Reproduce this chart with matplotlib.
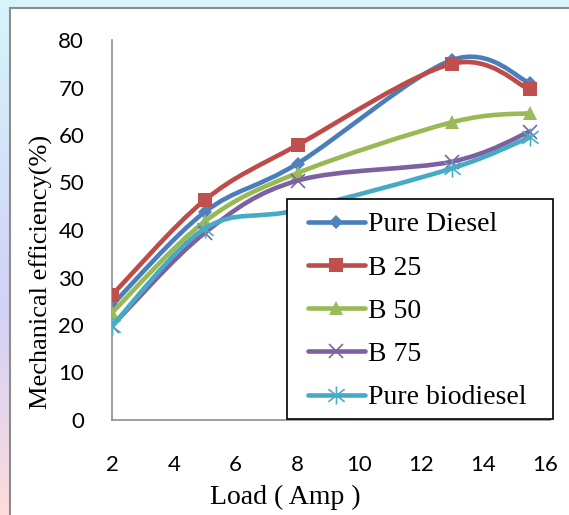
import numpy as np
import matplotlib
matplotlib.use("Agg")
import matplotlib.pyplot as plt
from matplotlib.path import Path
from matplotlib.patches import PathPatch, Rectangle
from matplotlib.lines import Line2D

# ---- data ----
load = [2, 5, 8, 13, 15.5]
pure_diesel = [24.2, 43.8, 54.0, 75.8, 71.0]
b25 = [26.3, 46.3, 57.9, 75.0, 69.6]
b50 = [22.6, 41.8, 52.0, 62.7, 64.6]
b75 = [19.8, 39.4, 50.4, 54.4, 60.7]
pure_biodiesel = [19.8, 40.3, 44.2, 53.0, 59.5]
series_names = ["Pure Diesel", "B 25", "B 50", "B 75", "Pure biodiesel"]
x_ticks = [2, 4, 6, 8, 10, 12, 14, 16]
y_ticks = [0, 10, 20, 30, 40, 50, 60, 70, 80]

W, H = 569, 515
fig = plt.figure(figsize=(W / 100, H / 100), dpi=100)

# background gradient
bg = fig.add_axes([0, 0, 1, 1], zorder=-10)
bg.set_axis_off()
ny, nx = 100, 60
top = np.array([0.84, 0.96, 0.98])
mid = np.array([0.82, 0.82, 0.97])
bot = np.array([0.99, 0.86, 0.86])
img = np.zeros((ny, nx, 3))
for i in range(ny):
    v = i / (ny - 1)
    if v < 0.6:
        c = top + (mid - top) * (v / 0.6)
    else:
        c = mid + (bot - mid) * ((v - 0.6) / 0.4)
    img[i, :, :] = c
bg.imshow(img, aspect="auto", extent=[0, 1, 0, 1], origin="upper")
bg.set_xlim(0, 1)
bg.set_ylim(0, 1)
bg.add_patch(Rectangle((10 / W, -0.1), 1.2, 1 - 8 / H + 0.1, transform=bg.transAxes,
                       facecolor="white", edgecolor="#8c8c8c", lw=1.5))

ax = fig.add_axes([112 / W, (H - 420) / H, 438 / W, 380 / H])
ax.set_facecolor("white")

colors_line = ["#4A7EBB", "#BE4B48", "#98B954", "#7D60A0", "#46AAC5"]
colors_mk = ["#4F81BD", "#C0504D", "#9BBB59", "#8064A2", "#4BACC6"]

star = Path([(0, -0.5), (0, 0.5), (-0.45, -0.35), (0.45, 0.35), (-0.45, 0.35), (0.45, -0.35)],
            [Path.MOVETO, Path.LINETO, Path.MOVETO, Path.LINETO, Path.MOVETO, Path.LINETO])
markers = ["D", "s", "^", "x", star]
msizes = [7.5, 10, 10, 10, 13]
mews = [0, 0, 0, 1.2, 1.2]


def smooth_path(x, y):
    pts = np.column_stack([x, y]).astype(float)
    n = len(pts)
    verts = [pts[0]]
    codes = [Path.MOVETO]
    for i in range(n - 1):
        p0 = pts[i - 1] if i > 0 else pts[i]
        p1 = pts[i]
        p2 = pts[i + 1]
        p3 = pts[i + 2] if i + 2 < n else pts[i + 1]
        c1 = p1 + (p2 - p0) / 6.0
        c2 = p2 - (p3 - p1) / 6.0
        verts += [c1, c2, p2]
        codes += [Path.CURVE4] * 3
    return Path(verts, codes)


all_series = [pure_diesel, b25, b50, b75, pure_biodiesel]
handles = []
for k, ys in enumerate(all_series):
    patch = PathPatch(smooth_path(load, ys), facecolor="none", edgecolor=colors_line[k],
                      lw=3.3, capstyle="round", joinstyle="round", zorder=2 + k)
    ax.add_patch(patch)
    if mews[k] == 0:
        ax.plot(load, ys, linestyle="none", marker=markers[k], ms=msizes[k],
                mfc=colors_mk[k], mec=colors_mk[k], mew=0, zorder=2.5 + k)
    else:
        ax.plot(load, ys, linestyle="none", marker=markers[k], ms=msizes[k],
                mfc="none", mec=colors_mk[k], mew=mews[k], zorder=2.5 + k)
    handles.append(Line2D([], [], color=colors_line[k], lw=3.3, marker=markers[k],
                          ms=msizes[k], mfc=colors_mk[k] if mews[k] == 0 else "none",
                          mec=colors_mk[k], mew=mews[k], solid_capstyle="round"))

ax.set_xlim(2, 16.16)
ax.set_ylim(0, 80)
ax.set_xticks(x_ticks)
ax.set_yticks(y_ticks)
ax.set_xticklabels([str(v) for v in x_ticks], fontfamily="Lato", fontsize=16)
ax.set_yticklabels([str(v) for v in y_ticks], fontfamily="Lato", fontsize=16)
ax.tick_params(axis="both", length=0, colors="black")
ax.tick_params(axis="x", pad=25)
ax.tick_params(axis="y", pad=20)
for s in ["top", "right"]:
    ax.spines[s].set_visible(False)
for s in ["left", "bottom"]:
    ax.spines[s].set_color("#8c8c8c")
    ax.spines[s].set_linewidth(1.2)

fig.text(285 / W, 1 - 497 / H, "Load ( Amp )", family="Liberation Serif", fontsize=20,
         ha="center", va="center")
fig.text(41 / W, 1 - 272 / H, "Mechanical efficiency(%)", family="Liberation Serif",
         fontsize=19, ha="center", va="center", rotation=90)

# legend frame drawn as a figure rectangle
fig.patches.append(Rectangle((287 / W, 1 - 419 / H), (553 - 287) / W, (419 - 199) / H,
                             transform=fig.transFigure, facecolor="white",
                             edgecolor="black", lw=1.2, zorder=15))
leg = fig.legend(handles, series_names, loc="upper left",
                 bbox_to_anchor=(308 / W, 1 - 212 / H), bbox_transform=fig.transFigure,
                 borderaxespad=0, prop={"family": "Liberation Serif", "size": 20},
                 handlelength=2.05, handletextpad=0.12, labelspacing=0.64,
                 borderpad=0, frameon=False)
leg.set_zorder(20)

fig.savefig("out.png", dpi=100)
